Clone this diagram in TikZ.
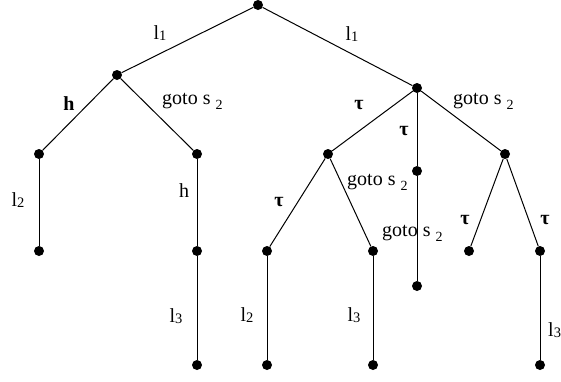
\documentclass[tikz,border=0pt]{standalone}
\usepackage{fontspec}
\setmainfont{Liberation Serif}
\newfontfamily\tms{Liberation Serif}
\newcommand\gs{goto s\hspace{5pt}\raisebox{-5pt}{\fontsize{14}{14}\selectfont 2}}
\newcommand\lsub[1]{l\raisebox{-1pt}{\fontsize{14.5}{14.5}\selectfont #1}}
\begin{document}
\begin{tikzpicture}[x=1pt,y=-1pt,
  dot/.style={circle,fill=black,inner sep=0pt,minimum size=10pt},
  edge/.style={line width=1pt},
  lab/.style={inner sep=0pt,font=\tms\fontsize{20}{22}\selectfont}]
\useasboundingbox (0,0) rectangle (561,381);
% nodes
\node[dot] (r) at (258,5) {};
\node[dot] (a) at (117,75) {};
\node[dot] (b) at (417,88) {};
\node[dot] (a1) at (39,154) {};
\node[dot] (a2) at (197,154) {};
\node[dot] (a11) at (39,251) {};
\node[dot] (a21) at (197,251) {};
\node[dot] (a22) at (197,365) {};
\node[dot] (b1) at (328,154) {};
\node[dot] (b2) at (417,171) {};
\node[dot] (b3) at (505,154) {};
\node[dot] (b11) at (267,251) {};
\node[dot] (b12) at (373,251) {};
\node[dot] (b111) at (267,365) {};
\node[dot] (b121) at (373,365) {};
\node[dot] (b21) at (417,286) {};
\node[dot] (b31) at (469,251) {};
\node[dot] (b32) at (540,251) {};
\node[dot] (b321) at (540,365) {};
% edges
\draw[edge] (r) -- (a);
\draw[edge] (r) -- (b);
\draw[edge] (a) -- (a1);
\draw[edge] (a) -- (a2);
\draw[edge] (a1) -- (a11);
\draw[edge] (a2) -- (a21);
\draw[edge] (a21) -- (a22);
\draw[edge] (b) -- (b1);
\draw[edge] (b) -- (b2);
\draw[edge] (b) -- (b3);
\draw[edge] (b1) -- (b11);
\draw[edge] (b1) -- (b12);
\draw[edge] (b11) -- (b111);
\draw[edge] (b12) -- (b121);
\draw[edge] (b2) -- (b21);
\draw[edge] (b3) -- (b31);
\draw[edge] (b3) -- (b32);
\draw[edge] (b32) -- (b321);
% labels
\node[lab] (t1) at (160,33) {\lsub{1}};
\node[lab] (t2) at (352,34) {\lsub{1}};
\node[lab] (t3) at (69,104) {\textbf{h}};
\node[lab,anchor=base west] (t4) at (162,104) {\gs};
\node[lab] (t5) at (359,105) {\textbf{τ}};
\node[lab] (t6) at (404,131) {\textbf{τ}};
\node[lab,anchor=base west] (t7) at (453,104) {\gs};
\node[lab] (t8) at (18,200) {\lsub{2}};
\node[lab] (t9) at (184,191) {h};
\node[lab,anchor=base west] (t10) at (347,185) {\gs};
\node[lab] (t11) at (279,202) {\textbf{τ}};
\node[lab,anchor=base west] (t12) at (382,236) {\gs};
\node[lab] (t13) at (465,220) {\textbf{τ}};
\node[lab] (t14) at (545,220) {\textbf{τ}};
\node[lab] (t15) at (176,316) {\lsub{3}};
\node[lab] (t16) at (247,315) {\lsub{2}};
\node[lab] (t17) at (354,315) {\lsub{3}};
\node[lab,anchor=west] (t18) at (548,330) {\lsub{3}};
\end{tikzpicture}
\end{document}
